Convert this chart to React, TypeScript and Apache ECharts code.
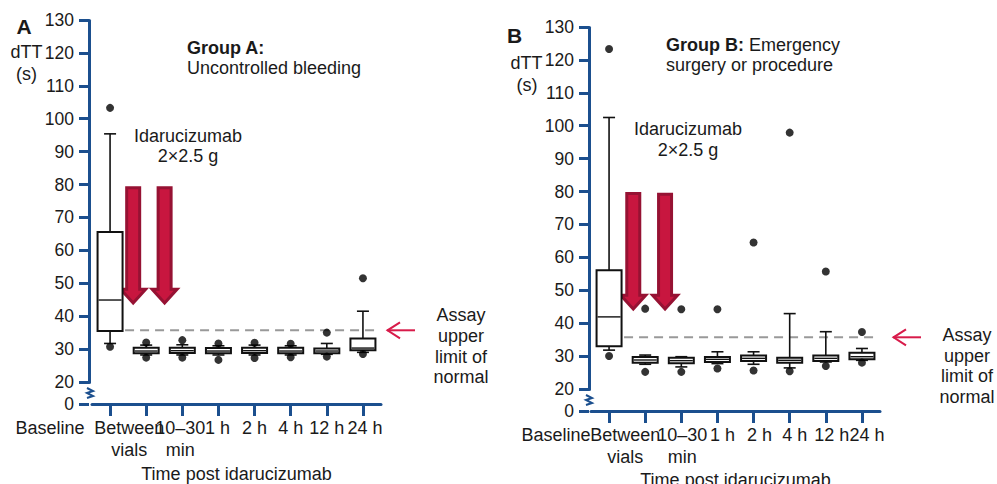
import React, { useEffect, useRef } from 'react';
import * as echarts from 'echarts';

// ---------- data ----------
const categories = ['Baseline', 'Between\nvials', '10–30\nmin', '1 h', '2 h', '4 h', '12 h', '24 h'];

// Group A: Uncontrolled bleeding
const lowA = [31.7, 28.2, 28.2, 28.2, 28.2, 28.2, 28.4, 29.0];
const q1A = [35.5, 28.7, 28.8, 28.7, 28.8, 28.7, 28.7, 29.6];
const medA = [44.9, 29.4, 29.5, 29.4, 29.5, 29.4, 29.4, 30.3];
const q3A = [65.6, 30.4, 30.4, 30.3, 30.4, 30.4, 30.2, 33.2];
const highA = [95.4, 31.2, 31.3, 31.0, 31.2, 31.0, 31.7, 41.5];
const outliersA = [
  [0, 103.3], [0, 30.7], [1, 32.0], [1, 27.4], [2, 32.7], [2, 27.4], [3, 31.7], [3, 26.7],
  [4, 31.9], [4, 27.3], [5, 31.6], [5, 27.5], [6, 35.0], [6, 27.7], [7, 51.5], [7, 28.5],
];

// Group B: Emergency surgery or procedure
const lowB = [31.8, 27.5, 26.7, 27.7, 27.5, 26.4, 28.2, 28.7];
const q1B = [33.0, 28.0, 27.8, 28.2, 28.5, 28.0, 28.5, 29.0];
const medB = [41.9, 28.8, 28.6, 29.0, 29.3, 28.7, 29.3, 29.8];
const q3B = [56.1, 29.7, 29.5, 29.7, 30.2, 29.5, 30.2, 31.0];
const highB = [102.5, 30.3, 29.8, 31.3, 31.3, 42.9, 37.4, 32.3];
const outliersB = [
  [0, 123.3], [0, 30.0], [1, 44.4], [1, 25.2], [2, 44.2], [2, 25.2], [3, 44.2], [3, 26.2],
  [4, 64.5], [4, 25.6], [5, 97.9], [5, 25.4], [6, 55.7], [6, 27.0], [7, 37.3], [7, 28.0],
];

const assayULN = 35.7;
// [category index, fraction of band from category centre, top value, head start value, tip value]
const doseArrowsA = [[0, 0.64, 79, 48.2, 44.0], [1, 0.51, 79, 48.2, 44.0]];
const doseArrowsB = [[0, 0.67, 79.4, 48.5, 44.3], [1, 0.55, 79.2, 48.5, 44.3]];

// label horizontal shifts (px) as in the original artwork
const labelShiftA = [-60, -17, -2, -1, 0, 0, 0, 2];
const labelShiftB = [-53, -20, 1, 5, 6, 5, 6, 5];

// ---------- styles ----------
const AXIS = '#1b4f8e';
const TXT = '#1a1a1a';
const FONT = '"Liberation Sans", Arial, Helvetica, sans-serif';

function boxRender(params: any, api: any) {
  const i = api.value(0);
  const ys = [1, 2, 3, 4, 5].map((d) => api.coord([i, api.value(d)]));
  const x = ys[0][0];
  const [yLow, yQ1, yMed, yQ3, yHigh] = ys.map((p: number[]) => p[1]);
  const bw = 25;
  const cw = 12;
  const ls = { stroke: '#111', lineWidth: 1.6 };
  return {
    type: 'group',
    children: [
      { type: 'line', shape: { x1: x, y1: yQ3, x2: x, y2: yHigh }, style: ls },
      { type: 'line', shape: { x1: x - cw / 2, y1: yHigh, x2: x + cw / 2, y2: yHigh }, style: ls },
      { type: 'line', shape: { x1: x, y1: yQ1, x2: x, y2: yLow }, style: ls },
      { type: 'line', shape: { x1: x - cw / 2, y1: yLow, x2: x + cw / 2, y2: yLow }, style: ls },
      {
        type: 'rect',
        shape: { x: x - bw / 2, y: yQ3, width: bw, height: yQ1 - yQ3 },
        style: { fill: '#fff', stroke: '#111', lineWidth: 2 },
      },
      { type: 'line', shape: { x1: x - bw / 2 + 1, y1: yMed, x2: x + bw / 2 - 1, y2: yMed }, style: { stroke: '#111', lineWidth: 1.4 } },
    ],
  };
}

function doseArrowRender(params: any, api: any) {
  const i = api.value(0);
  const frac = api.value(1);
  const band = api.size([1, 0])[0];
  const x = api.coord([i, api.value(2)])[0] + frac * band;
  const yTop = api.coord([i, api.value(2)])[1];
  const yHead = api.coord([i, api.value(3)])[1];
  const yTip = api.coord([i, api.value(4)])[1];
  const sw = 6.5;
  const hw = 12.5;
  return {
    type: 'polygon',
    shape: {
      points: [
        [x - sw, yTop], [x + sw, yTop], [x + sw, yHead], [x + hw, yHead],
        [x, yTip], [x - hw, yHead], [x - sw, yHead],
      ],
    },
    style: { fill: '#c8163f', stroke: '#961233', lineWidth: 3, lineJoin: 'miter' },
  };
}

function refLineRender(tipGap: number, tailGap: number) {
  return (params: any, api: any) => {
    const cs = params.coordSys;
    const p = api.coord([0, api.value(1)]);
    const y = p[1];
    const right = cs.x + cs.width;
    const tip = right + tipGap;
    const tail = right + tailGap;
    const red = '#d81b4a';
    return {
      type: 'group',
      children: [
        {
          type: 'line',
          shape: { x1: p[0], y1: y, x2: right - 1, y2: y },
          style: { stroke: '#999', lineWidth: 2, lineDash: [9, 6] },
        },
        { type: 'line', shape: { x1: tip, y1: y, x2: tail, y2: y }, style: { stroke: red, lineWidth: 2 } },
        {
          type: 'polyline',
          shape: { points: [[tip + 13, y - 8], [tip + 0.5, y], [tip + 13, y + 8]] },
          style: { stroke: red, lineWidth: 2, fill: 'none' },
        },
      ],
    };
  };
}

function makeXAxis(gridIndex: number, shifts: number[], nameGap: number) {
  const rich: any = {};
  shifts.forEach((s, i) => {
    rich['s' + i] = {
      fontSize: 18,
      fontFamily: FONT,
      color: TXT,
      lineHeight: 22,
      padding: s < 0 ? [0, -2 * s, 0, 0] : [0, 0, 0, 2 * s],
    };
  });
  return {
    gridIndex,
    type: 'category',
    data: categories,
    boundaryGap: true,
    name: 'Time post idarucizumab',
    nameLocation: 'middle',
    nameGap,
    nameTextStyle: { fontSize: 18, fontFamily: FONT, color: TXT },
    axisLine: { show: true, onZero: false, lineStyle: { color: AXIS, width: 3 } },
    axisTick: { show: true, alignWithLabel: true, length: 12, lineStyle: { color: AXIS, width: 3 } },
    axisLabel: {
      interval: 0,
      margin: 13,
      formatter: (v: string, i: number) =>
        v.split('\n').map((l) => `{s${i}|${l}}`).join('\n'),
      rich,
    },
    splitLine: { show: false },
  };
}

function makeYAxis(gridIndex: number, offset: number) {
  return {
    gridIndex,
    type: 'value',
    min: 0,
    max: 130,
    interval: 10,
    offset,
    breaks: [{ start: 0, end: 20, gap: 6.7 }],
    breakArea: {
      show: true,
      expandOnClick: false,
      itemStyle: { color: 'rgba(0,0,0,0)', borderColor: 'rgba(0,0,0,0)', borderWidth: 0 },
    },
    axisLine: { show: true, onZero: false, lineStyle: { color: AXIS, width: 3 } },
    axisTick: { show: true, length: 10, lineStyle: { color: AXIS, width: 3 } },
    axisLabel: { fontSize: 17.5, fontFamily: FONT, color: TXT, margin: 15 },
    splitLine: { show: false },
  };
}

function panelSeries(idx: number, low: number[], q1: number[], med: number[], q3: number[], high: number[], outliers: number[][], arrows: number[][], tipGap: number, tailGap: number) {
  const boxData = categories.map((_, i) => [i, low[i], q1[i], med[i], q3[i], high[i]]);
  return [
    {
      type: 'custom',
      xAxisIndex: idx,
      yAxisIndex: idx,
      clip: false,
      z: 1,
      renderItem: refLineRender(tipGap, tailGap),
      encode: { x: 0, y: 1 },
      data: [[0, assayULN]],
      silent: true,
    },
    {
      type: 'custom',
      xAxisIndex: idx,
      yAxisIndex: idx,
      clip: false,
      z: 2,
      renderItem: doseArrowRender,
      encode: { x: 0, y: [2, 3, 4] },
      data: arrows,
      silent: true,
    },
    {
      type: 'custom',
      xAxisIndex: idx,
      yAxisIndex: idx,
      clip: false,
      z: 3,
      renderItem: boxRender,
      encode: { x: 0, y: [1, 2, 3, 4, 5] },
      data: boxData,
      silent: true,
    },
    {
      type: 'scatter',
      xAxisIndex: idx,
      yAxisIndex: idx,
      z: 4,
      symbol: 'circle',
      symbolSize: 8,
      itemStyle: { color: '#000' },
      data: outliers,
      silent: true,
    },
  ];
}

function txt(text: string, x: number, y: number, opts: any = {}) {
  return {
    type: 'text',
    x,
    y,
    silent: true,
    style: {
      text,
      fill: TXT,
      font: `${opts.weight || 'normal'} ${opts.size || 18}px ${FONT}`,
      align: opts.align || 'center',
      verticalAlign: 'middle',
      rich: opts.rich,
    },
  };
}

function zigzag(x: number, y: number) {
  return {
    type: 'polyline',
    silent: true,
    z: 100,
    shape: { points: [[x - 3, y], [x + 3, y + 3], [x - 3, y + 5], [x + 3, y + 8], [x - 3, y + 10]] },
    style: { stroke: AXIS, lineWidth: 2, fill: 'none' },
  };
}

function buildOption() {
  const boldRich = {
    b: { fontWeight: 'bold', fontSize: 18, fontFamily: FONT, color: TXT },
    n: { fontSize: 18, fontFamily: FONT, color: TXT },
  };
  return {
    animation: false,
    backgroundColor: '#fff',
    textStyle: { fontFamily: FONT },
    grid: [
      { left: 92, top: 20, width: 289, height: 384, containLabel: false, outerBoundsMode: 'none' },
      { left: 591, top: 27, width: 289, height: 384, containLabel: false, outerBoundsMode: 'none' },
    ],
    xAxis: [makeXAxis(0, labelShiftA, 61), makeXAxis(1, labelShiftB, 57)],
    yAxis: [makeYAxis(0, 3), makeYAxis(1, 2)],
    series: [
      ...panelSeries(0, lowA, q1A, medA, q3A, highA, outliersA, doseArrowsA, 6, 34),
      ...panelSeries(1, lowB, q1B, medB, q3B, highB, outliersB, doseArrowsB, 13, 41),
    ],
    graphic: [
      zigzag(90, 388),
      zigzag(589, 395),
      txt('A', 24, 26, { weight: 'bold', size: 21 }),
      txt('dTT', 26.5, 52),
      txt('(s)', 26.5, 74),
      txt('{b|Group A:}', 187, 48, { align: 'left', rich: boldRich }),
      txt('Uncontrolled bleeding', 187, 68, { align: 'left' }),
      txt('Idarucizumab', 188, 136),
      txt('2×2.5 g', 188, 156),
      txt('Assay', 461, 315),
      txt('upper', 461, 336),
      txt('limit of', 461, 357),
      txt('normal', 461, 377),

      txt('B', 514.5, 35, { weight: 'bold', size: 21 }),
      txt('dTT', 526.5, 63),
      txt('(s)', 527, 85),
      txt('{b|Group B:}{n| Emergency}', 666, 45, { align: 'left', rich: boldRich }),
      txt('surgery or procedure', 666, 65, { align: 'left' }),
      txt('Idarucizumab', 688, 129),
      txt('2×2.5 g', 688, 150),
      txt('Assay', 967, 335),
      txt('upper', 967, 356),
      txt('limit of', 967, 376),
      txt('normal', 967, 397),
    ],
  };
}

export default function App() {
  const ref = useRef<HTMLDivElement>(null);
  useEffect(() => {
    if (!ref.current) return;
    const chart = echarts.init(ref.current, null, { renderer: 'svg' });
    chart.setOption(buildOption() as any);
    return () => chart.dispose();
  }, []);
  return <div ref={ref} style={{ position: 'fixed', left: 0, top: 0, width: 997, height: 484 }} />;
}
